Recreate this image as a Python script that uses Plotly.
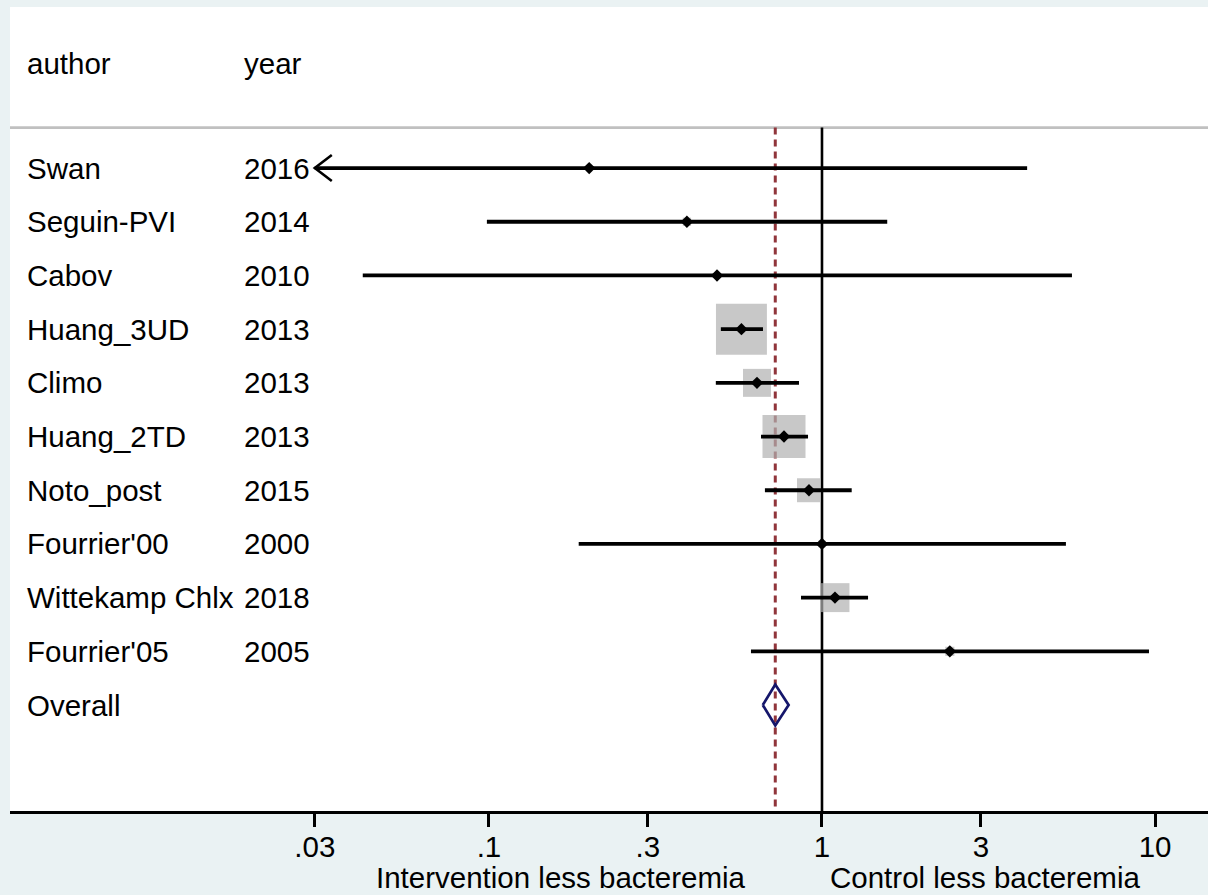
import math
import plotly.graph_objects as go

# ---- study data -------------------------------------------------------------
authors = ["Swan", "Seguin-PVI", "Cabov", "Huang_3UD", "Climo", "Huang_2TD",
           "Noto_post", "Fourrier'00", "Wittekamp Chlx", "Fourrier'05"]
years = ["2016", "2014", "2010", "2013", "2013", "2013",
         "2015", "2000", "2018", "2005"]
effect = [0.20, 0.393, 0.484, 0.573, 0.638, 0.769, 0.914, 1.00, 1.094, 2.42]
ci_low = [0.010, 0.0986, 0.0418, 0.497, 0.480, 0.656, 0.674, 0.186, 0.865, 0.612]
ci_high = [4.13, 1.57, 5.63, 0.665, 0.853, 0.908, 1.228, 5.40, 1.375, 9.59]
weight = [0.6, 1.0, 0.5, 37.5, 11.3, 26.7, 8.3, 0.7, 12.1, 1.2]

overall_label = "Overall"
overall_effect = 0.724
overall_low = 0.664
overall_high = 0.794

tick_values = [0.03, 0.1, 0.3, 1, 3, 10]
tick_labels = [".03", ".1", ".3", "1", "3", "10"]
left_label = "Intervention less bacteremia"
right_label = "Control less bacteremia"

# ---- styling ----------------------------------------------------------------
FONT = "Liberation Sans, Arial, sans-serif"
FS = 29.5
BG = "#EAF2F3"
BOX_GRAY = "#B0B0B0"
REF_RED = "#90353B"
NAVY = "#15166B"
W, H = 1208, 895
M_L, M_R, M_T, M_B = 10, 0, 7, 84
X_RANGE = [-2.438, 1.159]          # log10 units
Y_RANGE = [12.974, -2.0]           # row units, top row = 1
HEADER_ROW = -0.955
SEP_ROW = 0.246
BOX_PX = 8.32                      # square side = BOX_PX * sqrt(weight %)
CLIP_LO = tick_values[0]           # CIs below the axis minimum get an arrow

plot_w = W - M_L - M_R
plot_h = H - M_T - M_B
px_per_dec = plot_w / (X_RANGE[1] - X_RANGE[0])
px_per_row = plot_h / (Y_RANGE[0] - Y_RANGE[1])

rows = list(range(1, len(authors) + 1))
overall_row = len(authors) + 1

fig = go.Figure()

# reference lines: null effect and pooled estimate
fig.add_trace(go.Scatter(x=[1, 1], y=[SEP_ROW, Y_RANGE[0]], mode="lines",
                         line=dict(color="black", width=2.6), hoverinfo="skip"))
fig.add_trace(go.Scatter(x=[overall_effect, overall_effect], y=[SEP_ROW, Y_RANGE[0]],
                         mode="lines",
                         line=dict(color=REF_RED, width=3, dash="7px,5px"),
                         hoverinfo="skip"))

# weight boxes
fig.add_trace(go.Scatter(
    x=effect, y=rows, mode="markers",
    marker=dict(symbol="square", color=BOX_GRAY,
                size=[BOX_PX * math.sqrt(w) for w in weight],
                line=dict(width=0)),
    hoverinfo="skip"))

# confidence intervals (clipped at the axis minimum with an arrow)
for r, lo, hi in zip(rows, ci_low, ci_high):
    lo_draw = max(lo, CLIP_LO)
    fig.add_trace(go.Scatter(x=[lo_draw, hi], y=[r, r], mode="lines",
                             line=dict(color="black", width=3.8), hoverinfo="skip"))
    if lo < CLIP_LO:
        dx = 10 ** (17 / px_per_dec)
        dy = 13 / px_per_row
        fig.add_trace(go.Scatter(
            x=[CLIP_LO * dx, CLIP_LO, CLIP_LO * dx], y=[r - dy, r, r + dy],
            mode="lines", line=dict(color="black", width=2.6), hoverinfo="skip"))

# point estimates
fig.add_trace(go.Scatter(
    x=effect, y=rows, mode="markers",
    marker=dict(symbol="diamond", color="black", size=9.5, line=dict(width=0)),
    hoverinfo="skip"))

# pooled estimate diamond
dh = 20.5 / px_per_row
fig.add_trace(go.Scatter(
    x=[overall_low, overall_effect, overall_high, overall_effect, overall_low],
    y=[overall_row, overall_row - dh, overall_row, overall_row + dh, overall_row],
    mode="lines", line=dict(color=NAVY, width=2.7), hoverinfo="skip"))

# text columns
col_author = (25 - M_L) / plot_w
col_year = (242 - M_L) / plot_w
ann = []


def text(x, y, s, **kw):
    d = dict(x=x, y=y, text=s, xref="paper", yref="y", xanchor="left",
             yanchor="middle", showarrow=False,
             font=dict(family=FONT, size=FS, color="black"))
    d.update(kw)
    ann.append(d)


text(col_author, HEADER_ROW, "author")
text(col_year, HEADER_ROW, "year")
for r, a, yv in zip(rows, authors, years):
    text(col_author, r, a)
    text(col_year, r, yv)
text(col_author, overall_row, overall_label)

# favours labels under the axis
ann.append(dict(x=-0.785, y=-0.0833, xref="x", yref="paper", text=left_label,
                xanchor="center", yanchor="middle", showarrow=False,
                font=dict(family=FONT, size=FS, color="black")))
ann.append(dict(x=0.488, y=-0.0833, xref="x", yref="paper", text=right_label,
                xanchor="center", yanchor="middle", showarrow=False,
                font=dict(family=FONT, size=FS, color="black")))

fig.update_layout(
    width=W, height=H,
    margin=dict(l=M_L, r=M_R, t=M_T, b=M_B, pad=0),
    paper_bgcolor=BG, plot_bgcolor="white",
    showlegend=False,
    annotations=ann,
    shapes=[dict(type="line", xref="paper", yref="y", x0=0, x1=1,
                 y0=SEP_ROW, y1=SEP_ROW, line=dict(color="#C0C0C0", width=2.7),
                 layer="below")],
    xaxis=dict(type="log", range=X_RANGE, tickvals=tick_values, ticktext=tick_labels,
               ticks="outside", ticklen=13, tickwidth=3, tickcolor="black",
               ticklabelstandoff=-5,
               showline=True, linewidth=3, linecolor="black",
               showgrid=False, zeroline=False,
               tickfont=dict(family=FONT, size=FS, color="black")),
    yaxis=dict(range=Y_RANGE, showticklabels=False, showgrid=False,
               zeroline=False, showline=False, ticks=""),
)

fig.write_html("out.html")
